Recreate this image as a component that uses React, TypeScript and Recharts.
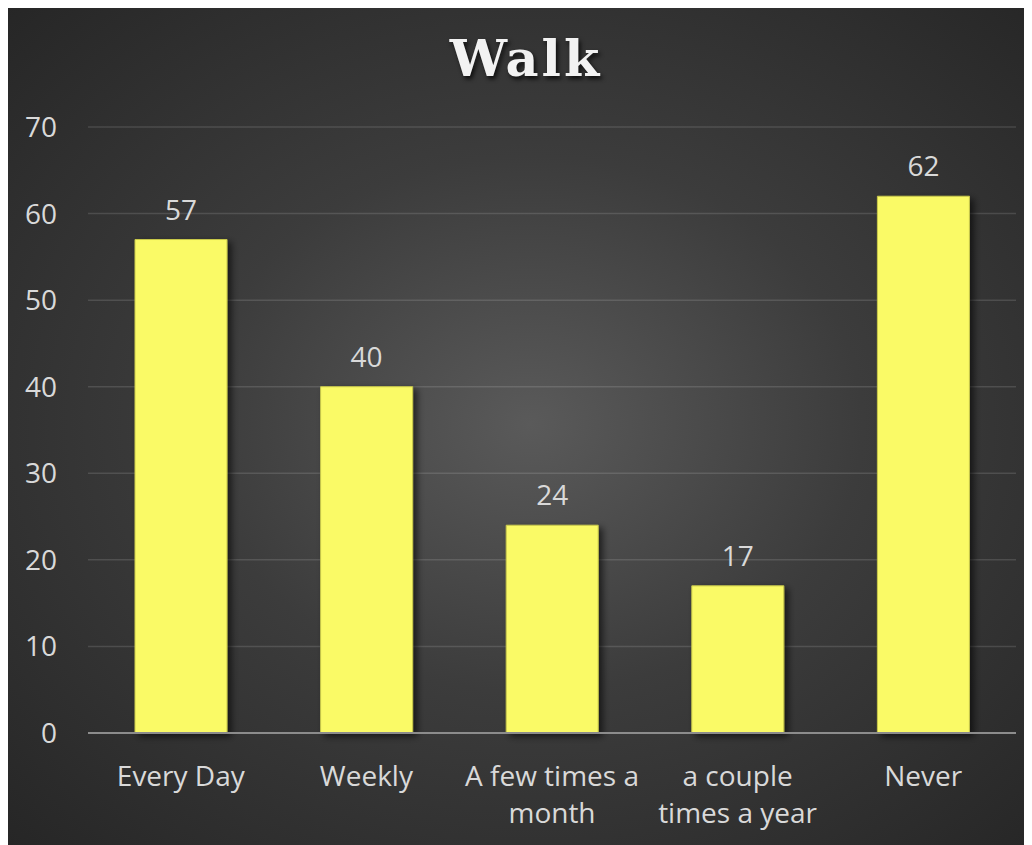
import React from 'react';
import { BarChart, Bar, XAxis, YAxis, CartesianGrid, LabelList } from 'recharts';

const categories = ['Every Day', 'Weekly', 'A few times a month', 'a couple times a year', 'Never'];
const counts = [57, 40, 24, 17, 62];
const tickLines = [['Every Day'], ['Weekly'], ['A few times a', 'month'], ['a couple', 'times a year'], ['Never']];
const yTicks = [0, 10, 20, 30, 40, 50, 60, 70];

const data = categories.map((name, i) => ({ name, value: counts[i] }));

const FONT = '"Open Sans", "Noto Sans", sans-serif';

const CategoryTick = ({ x, y, index }: any) => {
  const lines = tickLines[index] || [];
  return (
    <text x={x} y={y} textAnchor="middle" fill="#d9d9d9" style={{ fontSize: 28, fontFamily: FONT }}>
      {lines.map((line, i) => (
        <tspan key={i} x={x} dy={i === 0 ? 51 : 37}>
          {line}
        </tspan>
      ))}
    </text>
  );
};

export default function App() {
  return (
    <div
      style={{
        position: 'relative',
        width: 1024,
        height: 842,
        marginTop: -5,
        background: 'radial-gradient(ellipse at 51% 50%, #5a5a5a 0%, #3c3c3c 45%, #262626 100%)',
      }}
    >
      <div
        style={{
          position: 'absolute',
          top: 30,
          left: 6,
          width: '100%',
          textAlign: 'center',
          fontFamily: '"DejaVu Serif", serif',
          fontWeight: 'bold',
          fontSize: 51,
          letterSpacing: 3,
          lineHeight: '50px',
          color: '#f2f2f2',
          textShadow: '2px 3px 4px rgba(0,0,0,0.75)',
        }}
      >
        Walk
      </div>
      <BarChart
        width={1024}
        height={842}
        data={data}
        margin={{ top: 124, right: 16, bottom: 82, left: 0 }}
        style={{ position: 'absolute', top: 0, left: 0 }}
      >
        <defs>
          <filter id="barShadow" x="-20%" y="-20%" width="150%" height="140%">
            <feDropShadow dx="4" dy="3" stdDeviation="3.5" floodColor="#000" floodOpacity="0.6" />
          </filter>
        </defs>
        <CartesianGrid vertical={false} stroke="rgba(255,255,255,0.13)" strokeWidth={1.5} />
        <XAxis
          dataKey="name"
          height={30}
          axisLine={{ stroke: '#8c8c8c', strokeWidth: 2 }}
          tickLine={false}
          tickSize={0}
          interval={0}
          tick={<CategoryTick />}
        />
        <YAxis
          domain={[0, 70]}
          ticks={yTicks}
          width={80}
          axisLine={false}
          tickLine={false}
          tickSize={0}
          tickMargin={31}
          tick={{ fill: '#d9d9d9', fontSize: 28, fontFamily: FONT }}
        />
        <Bar
          dataKey="value"
          barSize={92}
          fill="#fafa66"
          stroke="#c9c94a"
          strokeWidth={1}
          filter="url(#barShadow)"
          isAnimationActive={false}
        >
          <LabelList
            dataKey="value"
            position="top"
            offset={20}
            fill="#d9d9d9"
            style={{ fontSize: 28, fontFamily: FONT }}
          />
        </Bar>
      </BarChart>
    </div>
  );
}
